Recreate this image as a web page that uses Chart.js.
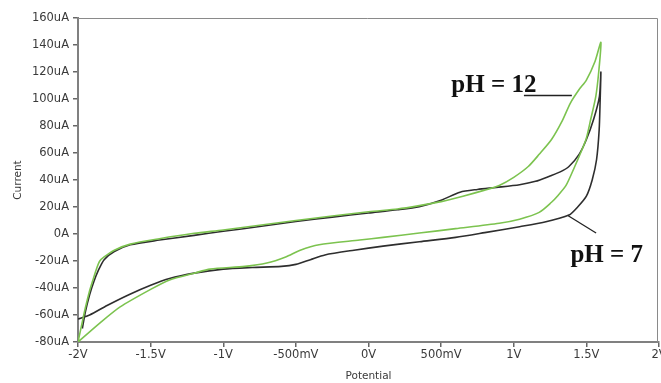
<!DOCTYPE html>
<html>
<head>
<meta charset="utf-8">
<script src="https://cdn.jsdelivr.net/npm/chart.js@4/dist/chart.umd.min.js"></script>
<style>
  html, body { margin: 0; padding: 0; background: #fff; }
  #wrap { width: 661px; height: 383px; }
</style>
</head>
<body>
<div id="wrap"><canvas id="cv"></canvas></div>
<script>
// cyclic voltammograms, potential in V, current in uA
// each loop: forward sweep up to +1.6 V, then back down to -2 V
const ph7Potential = [-1.97, -1.95, -1.92, -1.89, -1.86, -1.82, -1.75, -1.64, -1.44, -1.2, -1.0, -0.75, -0.5, -0.25, 0, 0.2, 0.35, 0.5, 0.63, 0.75, 0.88, 1.04, 1.15, 1.25, 1.32, 1.38, 1.45, 1.5, 1.55, 1.59, 1.6,
  1.595, 1.588, 1.57, 1.54, 1.5, 1.44, 1.38, 1.2, 1.04, 0.8, 0.6, 0.35, 0.1, -0.1, -0.3, -0.4, -0.5, -0.6, -0.8, -1.0, -1.2, -1.37, -1.5, -1.65, -1.8, -1.92, -2.0];
const ph7Current = [-70, -58, -45, -35, -27, -19, -13, -8, -4.5, -1, 2, 5.5, 9.2, 12.5, 15.6, 18, 20.3, 25, 31, 33, 34.5, 36.5, 39, 43, 46, 50, 59, 70, 85, 102, 120,
  100, 77, 55, 40, 28, 20, 14, 8.5, 5.4, 1, -2.5, -5.7, -9, -12, -15.5, -19, -22.5, -24, -24.8, -26, -29, -33, -38, -45, -53, -60, -63];

const ph12Potential = [-2.0, -1.97, -1.95, -1.92, -1.9, -1.87, -1.85, -1.82, -1.75, -1.64, -1.44, -1.2, -1.0, -0.5, 0, 0.2, 0.35, 0.5, 0.65, 0.8, 0.9, 1.0, 1.1, 1.175, 1.26, 1.33, 1.39, 1.45, 1.5, 1.56, 1.6,
  1.585, 1.565, 1.53, 1.5, 1.46, 1.42, 1.36, 1.3, 1.26, 1.175, 1.04, 0.9, 0.6, 0.35, 0.1, -0.06, -0.34, -0.47, -0.57, -0.7, -0.85, -1.09, -1.2, -1.37, -1.5, -1.71, -1.85, -2.0];
const ph12Current = [-80, -65, -55, -42, -35, -25, -20, -17, -12, -7.5, -3.5, 0.5, 3, 10, 16.5, 18.5, 21, 24, 28, 32.5, 36, 42, 50, 59, 70, 83, 97, 107, 114, 128, 142,
  120, 102, 85, 71, 60, 50, 36, 28, 23.5, 16, 11, 8, 4, 0.7, -2.5, -4.5, -8, -12, -17, -21.5, -24, -26, -29, -34, -41, -54, -66, -80];

const yTicks = [-80, -60, -40, -20, 0, 20, 40, 60, 80, 100, 120, 140, 160];
const xTicks = [-2, -1.5, -1, -0.5, 0, 0.5, 1, 1.5, 2];

function points(xs, ys) {
  return xs.map((x, i) => ({ x: x, y: ys[i] }));
}

function currentLabel(v) {
  return v === 0 ? '0A' : v + 'uA';
}

function potentialLabel(v) {
  if (v !== 0 && Math.abs(v) < 1) return Math.round(v * 1000) + 'mV';
  return v + 'V';
}

// pH labels with leader lines, placed in data units
const phNotes = [
  { text: 'pH = 12', x: 0.57, y: 105.5, line: [1.07, 102.6, 1.4, 102.6] },
  { text: 'pH = 7', x: 1.39, y: -20.8, line: [1.375, 13.5, 1.567, 0.7] }
];

const framePlugin = {
  id: 'frame',
  beforeDatasetsDraw(chart) {
    const a = chart.chartArea;
    const c = chart.ctx;
    c.save();
    c.strokeStyle = '#8a8a8a';
    c.lineWidth = 1;
    c.beginPath();
    c.moveTo(a.left, a.top + 0.5);
    c.lineTo(a.right - 1.5, a.top + 0.5);
    c.lineTo(a.right - 1.5, a.bottom);
    c.stroke();
    c.restore();
  }
};

const notesPlugin = {
  id: 'notes',
  afterDatasetsDraw(chart) {
    const xs = chart.scales.x, ys = chart.scales.y;
    const c = chart.ctx;
    c.save();
    phNotes.forEach(n => {
      c.strokeStyle = '#222';
      c.lineWidth = 1.3;
      c.beginPath();
      c.moveTo(xs.getPixelForValue(n.line[0]), ys.getPixelForValue(n.line[1]));
      c.lineTo(xs.getPixelForValue(n.line[2]), ys.getPixelForValue(n.line[3]));
      c.stroke();
      c.fillStyle = '#111';
      c.font = 'bold 25px "Liberation Serif", serif';
      c.textBaseline = 'alphabetic';
      c.fillText(n.text, xs.getPixelForValue(n.x), ys.getPixelForValue(n.y));
    });
    c.restore();
  }
};

const tickFont = { family: 'DejaVu Sans', size: 11.5 };

new Chart(document.getElementById('cv').getContext('2d'), {
  type: 'scatter',
  data: {
    datasets: [
      {
        label: 'pH = 12',
        data: points(ph12Potential, ph12Current),
        showLine: true,
        borderColor: '#7cc34f',
        borderWidth: 1.6,
        pointRadius: 0,
        tension: 0.25
      },
      {
        label: 'pH = 7',
        data: points(ph7Potential, ph7Current),
        showLine: true,
        borderColor: '#2e2e2e',
        borderWidth: 1.6,
        pointRadius: 0,
        tension: 0.25
      }
    ]
  },
  options: {
    responsive: true,
    maintainAspectRatio: false,
    animation: false,
    layout: { padding: { top: 18, right: 2, left: 0, bottom: 0 } },
    plugins: {
      legend: { display: false },
      tooltip: { enabled: false }
    },
    scales: {
      x: {
        type: 'linear',
        min: -2,
        max: 2,
        // the last label runs off the right edge, so no room is kept for it
        afterFit: s => { s.height = 41; s.paddingRight = 0; s.paddingLeft = 0; },
        afterBuildTicks: s => { s.ticks = xTicks.map(v => ({ value: v })); },
        ticks: {
          callback: potentialLabel,
          font: tickFont,
          color: '#3a3a3a',
          padding: 1,
          maxRotation: 0
        },
        grid: { drawOnChartArea: false, tickLength: 5, color: '#666', lineWidth: 1.5 },
        border: { color: '#808080', width: 2 },
        title: {
          display: true,
          text: 'Potential',
          font: { family: 'DejaVu Sans', size: 10.5 },
          color: '#3a3a3a',
          padding: { top: 0, bottom: 0 }
        }
      },
      y: {
        type: 'linear',
        min: -80,
        max: 160,
        afterFit: s => { s.width = 78; },
        afterBuildTicks: s => { s.ticks = yTicks.map(v => ({ value: v })); },
        ticks: {
          callback: currentLabel,
          font: tickFont,
          color: '#3a3a3a',
          padding: 4
        },
        grid: { drawOnChartArea: false, tickLength: 5, color: '#666', lineWidth: 1.5 },
        border: { color: '#808080', width: 2 },
        title: {
          display: true,
          text: 'Current',
          font: { family: 'DejaVu Sans', size: 10.5 },
          color: '#3a3a3a',
          padding: { top: 12, bottom: 0 }
        }
      }
    }
  },
  plugins: [framePlugin, notesPlugin]
});
</script>
</body>
</html>
